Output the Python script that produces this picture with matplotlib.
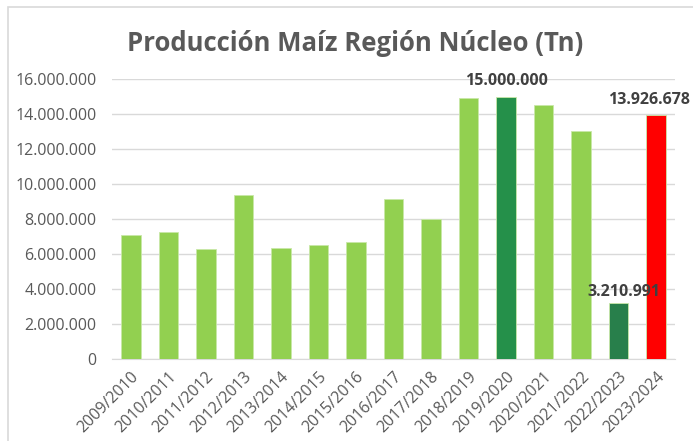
import matplotlib.pyplot as plt
from matplotlib.ticker import FuncFormatter
from matplotlib.patches import Rectangle

campanas = ["2009/2010", "2010/2011", "2011/2012", "2012/2013", "2013/2014",
            "2014/2015", "2015/2016", "2016/2017", "2017/2018", "2018/2019",
            "2019/2020", "2020/2021", "2021/2022", "2022/2023", "2023/2024"]
produccion = [7090000, 7270000, 6290000, 9370000, 6320000,
              6530000, 6690000, 9160000, 8000000, 14910000,
              15000000, 14500000, 13030000, 3210991, 13926678]
colores = ["#92D050"] * 10 + ["#25904A", "#92D050", "#92D050", "#287F4B", "#FF0000"]
etiquetas = {10: "15.000.000", 13: "3.210.991", 14: "13.926.678"}
# desplazamiento de cada etiqueta (puntos) respecto al tope de la barra
offsets = {10: (0, 11), 13: (4, 7.5), 14: (-5, 11)}

plt.rcParams['font.family'] = ['Open Sans', 'DejaVu Sans']

fig = plt.figure(figsize=(6.93, 4.41), dpi=100)
fig.patches.append(Rectangle((8 / 693, -0.1), 1.2, 1.1 - 7 / 441,
                             transform=fig.transFigure, fill=False,
                             edgecolor="#D9D9D9", linewidth=1.2))
ax = fig.add_axes([112 / 693, 1 - 359 / 441, 563 / 693, 280 / 441])

x = range(len(campanas))
ax.bar(x, produccion, width=0.52, color=colores, edgecolor="#C9E8A8",
       linewidth=0.6, zorder=3)

for i, txt in etiquetas.items():
    ax.annotate(txt, (i, produccion[i]), xytext=offsets[i], textcoords="offset points",
                ha="center", va="center", fontsize=11.5, fontweight="bold",
                color="#404040", zorder=4, annotation_clip=False)

ax.set_xlim(-0.5, len(campanas) - 0.5)
ax.set_ylim(0, 16000000)
ax.set_yticks(range(0, 16000001, 2000000))
ax.yaxis.set_major_formatter(FuncFormatter(lambda v, p: f"{int(v):,}".replace(",", ".")))
ax.set_xticks(list(x))
ax.set_xticklabels(campanas, rotation=45, ha="right", rotation_mode="anchor")
ax.tick_params(axis="both", length=0, labelsize=11.5, colors="#595959")
ax.tick_params(axis="x", pad=7)
ax.tick_params(axis="y", pad=11)
ax.grid(axis="y", color="#D9D9D9", linewidth=1, zorder=0)
for s in ["top", "right", "left"]:
    ax.spines[s].set_visible(False)
ax.spines["bottom"].set_color("#D9D9D9")

fig.text(0.512, 0.902, "Producción Maíz Región Núcleo (Tn)", ha="center", va="center",
         fontsize=18.5, fontweight="bold", color="#595959")

fig.savefig("out.png", dpi=100)
